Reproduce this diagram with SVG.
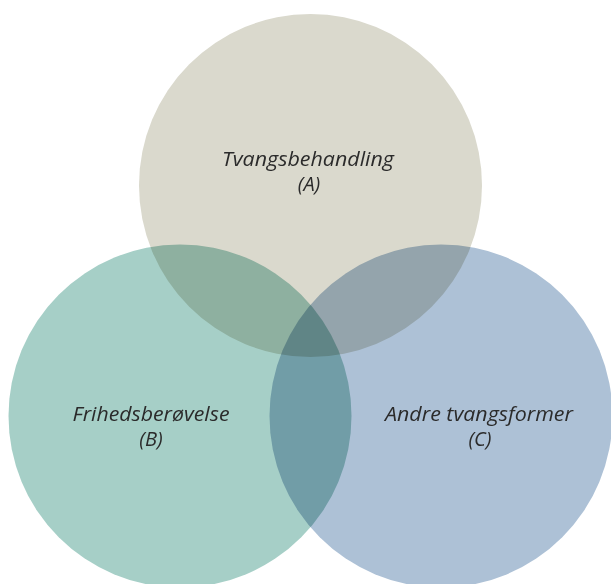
<svg xmlns="http://www.w3.org/2000/svg" width="611" height="584" viewBox="0 0 611 584">
<style>
.c{mix-blend-mode:multiply}
.t{font-family:"Open Sans","Liberation Sans",sans-serif;font-style:italic;font-weight:500;font-size:20px;fill:#2b2b2b;text-anchor:middle}
</style>
<rect width="611" height="584" fill="#ffffff"/>
<g id="nodeA"><circle class="c" cx="310.5" cy="185.5" r="171.5" fill="#dad9cd"/></g>
<g id="nodeB"><circle class="c" cx="180" cy="416" r="171.5" fill="#a6cfc7"/></g>
<g id="nodeC"><circle class="c" cx="441" cy="416" r="171.5" fill="#adc1d6"/></g>
<g id="labels">
<text class="t" x="308" y="166" textLength="172" lengthAdjust="spacingAndGlyphs">Tvangsbehandling</text>
<text class="t" x="309" y="191">(A)</text>
<text class="t" x="151" y="421" textLength="157" lengthAdjust="spacingAndGlyphs">Frihedsberøvelse</text>
<text class="t" x="151" y="446">(B)</text>
<text class="t" x="479" y="421" textLength="188" lengthAdjust="spacingAndGlyphs">Andre tvangsformer</text>
<text class="t" x="480" y="446">(C)</text>
</g>
<g id="connectors"/>
</svg>
